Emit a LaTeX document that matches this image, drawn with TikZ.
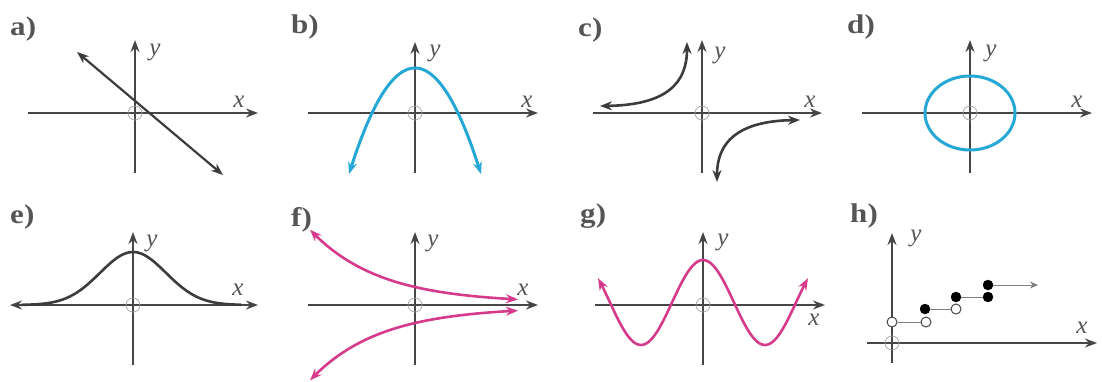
\documentclass[tikz,border=0pt]{standalone}
\usepackage{fontspec}
\setmainfont{Liberation Serif}
\usetikzlibrary{arrows.meta}

\definecolor{axisgray}{RGB}{70,70,70}
\definecolor{curvegray}{RGB}{60,60,60}
\definecolor{skyblue}{RGB}{38,168,214}
\definecolor{pinkline}{RGB}{214,58,140}
\definecolor{labelgray}{RGB}{85,85,85}

\begin{document}
\begin{tikzpicture}[
    x=1pt, y=1pt,
    >={Stealth[length=12pt,width=9pt]},
    axis/.style={draw=axisgray, line width=2pt, ->},
    origin/.style={draw=gray!70, line width=0.7pt},
    graph/.style={line width=2.6pt, <->},
    panel label/.style={anchor=base west, text=labelgray, inner sep=0pt, xscale=1.15,
        font=\fontsize{27}{27}\selectfont\bfseries},
    axis label/.style={text=labelgray, inner sep=0pt,
        font=\fontsize{25}{25}\selectfont\itshape},
    dot/.style={circle, draw=black, fill=black, minimum size=10pt, inner sep=0pt},
    hollow/.style={dot, draw=axisgray, line width=1pt, fill=white}
]
\useasboundingbox (0,0) rectangle (1102,-381);

% a) straight line
\node[panel label] (la) at (10,-35) {a)};
\begin{scope}[shift={(135,-113)}]
    \draw[axis] (-107,0) -- (123,0);
    \draw[axis] (0,-60) -- (0,73);
    \draw[origin] (0,0) circle (7pt);
    \node[axis label] (ya) at (20,61) {y};
    \node[axis label] (xa) at (104,11) {x};
    \draw[graph, draw=curvegray, line width=2.2pt] (-58,61) -- (88,-62);
\end{scope}

% b) parabola
\node[panel label] (lb) at (291,-33) {b)};
\begin{scope}[shift={(415,-113)}]
    \draw[axis] (-107,0) -- (123,0);
    \draw[axis] (0,-60) -- (0,71);
    \draw[origin] (0,0) circle (7pt);
    \node[axis label] (yb) at (20,60) {y};
    \node[axis label] (xb) at (112,11) {x};
    \draw[graph, draw=skyblue, line width=3pt] plot[domain=-66:66, samples=60]
        (\x, {45-45*(\x/43)^2});
\end{scope}

% c) hyperbola
\node[panel label] (lc) at (578,-36) {c)};
\begin{scope}[shift={(702,-113)}]
    \draw[axis] (-109,0) -- (120,0);
    \draw[axis] (0,-60) -- (0,73);
    \draw[origin] (0,0) circle (7pt);
    \node[axis label] (yc) at (18,58) {y};
    \node[axis label] (xc) at (108,11) {x};
    \draw[graph, draw=curvegray] (-102,7) .. controls (-35,8) and (-15,30) .. (-15,71);
    \draw[graph, draw=curvegray] (15,-69) .. controls (15,-30) and (35,-8) .. (98,-7);
\end{scope}

% d) ellipse
\node[panel label] (ld) at (847,-33) {d)};
\begin{scope}[shift={(970,-113)}]
    \draw[axis] (-108,0) -- (122,0);
    \draw[axis] (0,-60) -- (0,73);
    \draw[origin] (0,0) circle (7pt);
    \node[axis label] (yd) at (21,60) {y};
    \node[axis label] (xd) at (107,11) {x};
    \draw[draw=skyblue, line width=3pt] (0,0) ellipse [x radius=45pt, y radius=37pt];
\end{scope}

% e) bell curve
\node[panel label] (le) at (10,-223) {e)};
\begin{scope}[shift={(133,-305)}]
    \draw[axis, <->] (-123,0) -- (125,0);
    \draw[axis] (0,-60) -- (0,73);
    \draw[origin] (0,0) circle (7pt);
    \node[axis label] (ye) at (19,62) {y};
    \node[axis label] (xe) at (105,15) {x};
    \draw[draw=curvegray, line width=2.6pt] plot[domain=-112:108, samples=80]
        (\x, {53*exp(-(\x/33)^2/2)});
\end{scope}

% f) exponentials
\node[panel label] (lf) at (291,-226) {f)};
\begin{scope}[shift={(415,-305)}]
    \draw[axis] (-107,0) -- (123,0);
    \draw[axis] (0,-60) -- (0,73);
    \draw[origin] (0,0) circle (7pt);
    \node[axis label] (yf) at (18,62) {y};
    \node[axis label] (xf) at (108,15) {x};
    \draw[graph, draw=pinkline] plot[domain=-105:103, samples=60]
        (\x, {2+16*exp(-0.0145*\x)});
    \draw[graph, draw=pinkline] plot[domain=-105:103, samples=60]
        (\x, {-2-16*exp(-0.0145*\x)});
\end{scope}

% g) cosine
\node[panel label] (lg) at (580,-222) {g)};
\begin{scope}[shift={(703,-305)}]
    \draw[axis] (-108,0) -- (122,0);
    \draw[axis] (0,-60) -- (0,73);
    \draw[origin] (0,0) circle (7pt);
    \node[axis label] (yg) at (20,63) {y};
    \node[axis label] (xg) at (111,-15) {x};
    \draw[graph, draw=pinkline] plot[domain=-105:105, samples=90]
        (\x, {2.5+42.5*cos(2.9032*\x)});
\end{scope}

% h) step function
\node[panel label] (lh) at (850,-222) {h)};
\begin{scope}[shift={(892,-343)}]
    \draw[axis] (-25,0) -- (205,0);
    \draw[axis] (0,-20) -- (0,110);
    \draw[origin] (0,0) circle (7pt);
    \node[axis label] (yh) at (24,105) {y};
    \node[axis label] (xh) at (190,15) {x};
    \node[hollow] (s0) at (0,21) {};
    \node[hollow] (e0) at (34,21) {};
    \node[dot] (s1) at (33,34) {};
    \node[hollow] (e1) at (64,34) {};
    \node[dot] (s2) at (64,46) {};
    \node[dot] (e2) at (96,46) {};
    \node[dot] (s3) at (96,58) {};
    \coordinate (e3) at (146,58);
    \draw[gray, line width=1pt] (s0) -- (e0);
    \draw[gray, line width=1pt] (s1) -- (e1);
    \draw[gray, line width=1pt] (s2) -- (e2);
    \draw[gray, line width=1pt, -{Stealth[length=8pt,width=7pt]}] (s3) -- (e3);
\end{scope}
\end{tikzpicture}
\end{document}
